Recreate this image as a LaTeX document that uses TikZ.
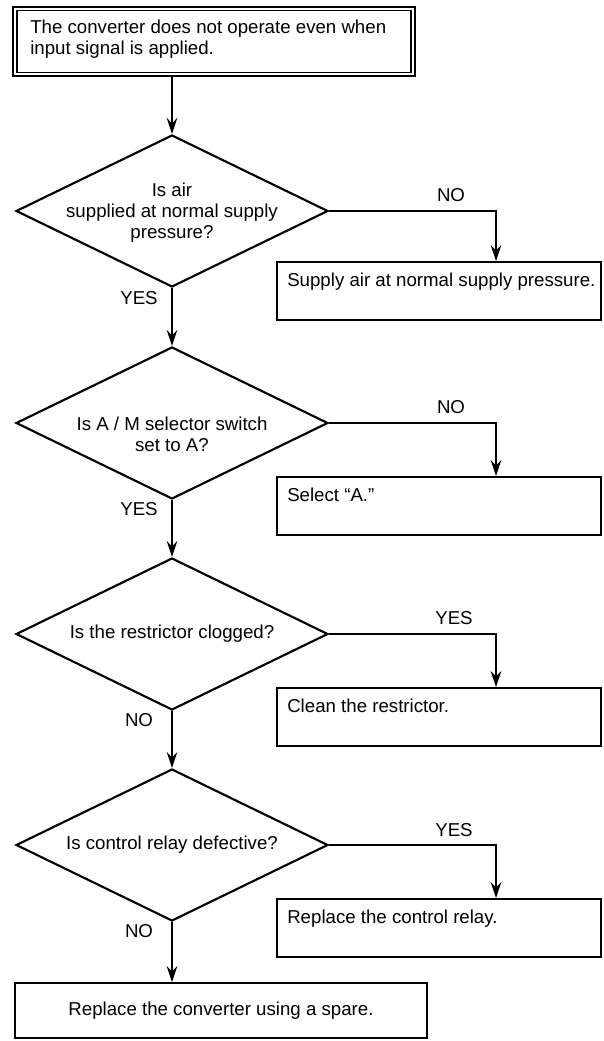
\documentclass[tikz,border=0pt]{standalone}
\usepackage{fontspec}
\setmainfont{Liberation Sans}
\usetikzlibrary{positioning,arrows.meta,shapes.geometric}
\tikzset{
  txt/.style={font=\fontsize{14}{15.75}\selectfont,inner sep=0pt},
  startbox/.style={draw,line width=1.2pt,double,double distance=1.6pt,
            minimum width=298.5pt,minimum height=49.2pt},
  dec/.style={diamond,draw,line width=1.6pt,minimum width=234pt,
            minimum height=114pt,inner sep=0pt},
  act/.style={draw,line width=1.5pt,minimum width=243pt,minimum height=43.5pt},
  endbox/.style={act,minimum width=309pt,minimum height=41.25pt},
  flow/.style={-{Stealth[length=12pt,width=8pt,inset=4pt]},line width=0.8pt},
}

\begin{document}
\begin{tikzpicture}[x=0.75pt,y=-0.75pt]
  \useasboundingbox (0,0) rectangle (603,1041);
  % start
  \node[startbox] (start) at (214,41.5) {};
  \node[txt,align=left,anchor=north west] (starttxt) at (30,19.5)
       {The converter does not operate even when\\input signal is applied.};
  % questions
  \node[dec] (d1) at (172,211) {};
  \node[dec] (d2) at (172,423) {};
  \node[dec] (d3) at (172,634) {};
  \node[dec] (d4) at (172,845) {};
  \node[txt,align=center] (q1) at (172,213) {Is air\\supplied at normal supply\\pressure?};
  \node[txt,align=center] (q2) at (172,434) {Is A / M selector switch\\set to A?};
  \node[txt] (q3) at (172,634) {Is the restrictor clogged?};
  \node[txt] (q4) at (172,845) {Is control relay defective?};
  % actions
  \node[act] (a1) at (439,291) {};
  \node[act] (a2) at (439,506) {};
  \node[act] (a3) at (439,717) {};
  \node[act] (a4) at (439,928) {};
  \node[txt,anchor=base west] (t1) at (287,286) {Supply air at normal supply pressure.};
  \node[txt,anchor=base west] (t2) at (287,501) {Select “A.”};
  \node[txt,anchor=base west] (t3) at (287,712) {Clean the restrictor.};
  \node[txt,anchor=base west] (t4) at (287,923) {Replace the control relay.};
  \node[endbox] (fin) at (221,1010.5) {};
  \node[txt] (fintxt) at (fin) {Replace the converter using a spare.};
  % connectors
  \draw[flow] (d1.north |- start.south) -- (d1.north);
  \draw[flow] (d1.south) -- (d2.north);
  \draw[flow] (d2.south) -- (d3.north);
  \draw[flow] (d3.south) -- (d4.north);
  \draw[flow] (d4.south) -- (d4.south |- fin.north);
  \draw[flow] (d1.east) -| ([xshift=42.75pt]a1.north);
  \draw[flow] (d2.east) -| ([xshift=42.75pt]a2.north);
  \draw[flow] (d3.east) -| ([xshift=42.75pt]a3.north);
  \draw[flow] (d4.east) -| ([xshift=42.75pt]a4.north);
  % answers
  \node[txt] (yes1) at (139,298) {YES};
  \node[txt] (yes2) at (139,509) {YES};
  \node[txt] (no3) at (139,720) {NO};
  \node[txt] (no4) at (139,931) {NO};
  \node[txt] (no1) at (451,195) {NO};
  \node[txt] (no2) at (451,407) {NO};
  \node[txt] (yes3) at (454,618) {YES};
  \node[txt] (yes4) at (454,830) {YES};
\end{tikzpicture}
\end{document}
